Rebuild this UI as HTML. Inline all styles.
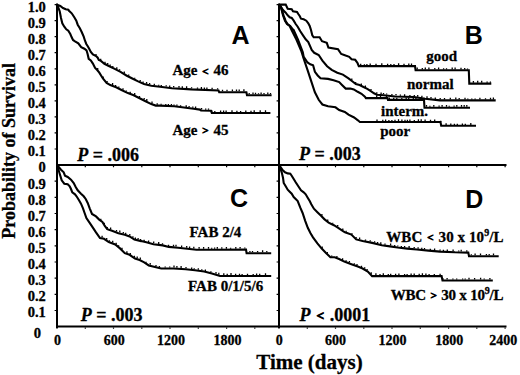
<!DOCTYPE html>
<html><head><meta charset="utf-8"><style>
html,body{margin:0;padding:0;background:#fff;}
body{width:520px;height:375px;overflow:hidden;font-family:"Liberation Serif",serif;}
svg{display:block;}
text{stroke:#000;stroke-width:0.3px;paint-order:stroke;}
text[font-family='Liberation Sans']{stroke:none;}
</style></head><body>
<svg width="520" height="375" viewBox="0 0 520 375">
<rect width="520" height="375" fill="#fff"/>
<path d="M57 3.6V328M279 3.6V328M56 165H506.5M56 326.6H506.5" stroke="#000" stroke-width="2" fill="none"/>
<path d="M54.6 149.0h1.4 M54.6 132.9h1.4 M54.6 116.9h1.4 M54.6 100.8h1.4 M54.6 84.8h1.4 M54.6 68.8h1.4 M54.6 52.7h1.4 M54.6 36.7h1.4 M54.6 20.6h1.4 M54.6 4.6h1.4 M54.6 310.5h1.4 M54.6 294.4h1.4 M54.6 278.2h1.4 M54.6 262.0h1.4 M54.6 245.8h1.4 M54.6 229.7h1.4 M54.6 213.5h1.4 M54.6 197.3h1.4 M54.6 181.2h1.4 M276.6 149.0h1.4 M276.6 132.9h1.4 M276.6 116.9h1.4 M276.6 100.8h1.4 M276.6 84.8h1.4 M276.6 68.8h1.4 M276.6 52.7h1.4 M276.6 36.7h1.4 M276.6 20.6h1.4 M276.6 4.6h1.4 M276.6 310.5h1.4 M276.6 294.4h1.4 M276.6 278.2h1.4 M276.6 262.0h1.4 M276.6 245.8h1.4 M276.6 229.7h1.4 M276.6 213.5h1.4 M276.6 197.3h1.4 M276.6 181.2h1.4 M57.0 166.0v1.2 M85.3 166.0v1.2 M113.5 166.0v1.2 M141.8 166.0v1.2 M170.0 166.0v1.2 M198.3 166.0v1.2 M226.6 166.0v1.2 M254.8 166.0v1.2 M279.0 166.0v1.2 M307.3 166.0v1.2 M335.5 166.0v1.2 M363.8 166.0v1.2 M392.0 166.0v1.2 M420.3 166.0v1.2 M448.6 166.0v1.2 M476.8 166.0v1.2 M505.1 166.0v1.2 M57.0 327.6v1.2 M85.3 327.6v1.2 M113.5 327.6v1.2 M141.8 327.6v1.2 M170.0 327.6v1.2 M198.3 327.6v1.2 M226.6 327.6v1.2 M254.8 327.6v1.2 M279.0 327.6v1.2 M307.3 327.6v1.2 M335.5 327.6v1.2 M363.8 327.6v1.2 M392.0 327.6v1.2 M420.3 327.6v1.2 M448.6 327.6v1.2 M476.8 327.6v1.2 M505.1 327.6v1.2" stroke="#000" stroke-width="1.2" fill="none"/>
<polyline points="57.0,4.8 60.3,6.0 63.0,8.0 65.7,9.3 68.3,9.7 69.0,10.7 71.7,13.3 74.3,17.3 76.3,20.7 77.7,24.7 79.7,28.0 81.7,32.0 83.7,36.7 85.0,40.7 86.3,44.0 87.6,46.0 89.2,48.7 90.8,51.9 92.9,54.5 96.1,56.1 97.7,57.7 98.8,59.9 100.9,60.9 104.4,63.8 108.8,66.0 114.7,68.9 120.5,71.9 126.4,75.5 132.3,78.5 138.1,81.4 144.0,84.0 151.3,85.8 160.0,86.8 172.0,88.2 191.2,89.4 218.5,90.4 219.2,92.2 246.4,92.2 247.0,95.2 271.6,95.2" stroke="#000" stroke-width="2.1" fill="none" stroke-linejoin="miter"/>
<polyline points="57.4,5.0 59.7,11.3 61.0,18.0 62.3,23.3 64.3,26.7 66.3,29.3 68.3,30.7 70.3,34.0 71.7,37.3 73.0,40.0 75.0,41.3 78.3,43.3 81.2,47.1 84.4,48.7 86.5,50.3 87.6,54.0 88.7,58.8 90.8,60.4 92.9,63.6 95.1,67.9 97.2,70.0 99.3,72.7 102.9,78.5 106.6,82.9 110.3,85.1 116.1,87.3 122.0,90.2 127.9,93.1 133.7,95.3 139.6,98.3 145.5,101.2 151.3,104.1 155.7,105.6 160.0,105.6 174.4,106.3 193.6,108.8 200.0,109.6 201.0,110.5 211.0,110.8 211.8,113.0 270.4,113.0" stroke="#000" stroke-width="2.1" fill="none" stroke-linejoin="miter"/>
<polyline points="279.0,4.6 285.7,4.6 287.7,8.7 291.7,9.3 293.0,11.3 297.0,12.0 298.3,14.0 299.7,16.0 301.0,18.7 303.7,19.3 306.3,20.7 308.3,23.3 309.7,26.0 311.0,30.0 312.3,35.3 313.7,37.3 319.6,37.2 322.0,41.2 326.8,42.8 328.4,47.6 338.0,49.2 341.2,54.0 345.6,55.6 349.2,56.8 351.6,59.2 355.2,59.8 357.5,63.0 358.8,66.1 415.0,66.1 415.6,70.3 468.8,70.3 469.3,83.6 491.3,83.6" stroke="#000" stroke-width="2.1" fill="none" stroke-linejoin="miter"/>
<polyline points="279.5,4.8 283.0,10.0 285.7,12.7 287.7,15.3 289.7,17.3 291.7,18.0 293.7,20.7 295.7,24.0 297.7,26.7 300.3,31.3 303.0,35.3 305.7,39.3 308.3,42.0 310.3,46.7 311.7,50.0 314.2,52.8 318.7,55.0 322.4,60.6 327.1,66.2 331.7,69.9 337.3,72.7 342.9,74.6 348.5,78.3 352.9,81.7 355.8,84.1 359.6,85.1 363.5,87.0 367.3,88.9 371.2,91.3 374.0,93.3 376.9,94.7 383.7,95.2 395.0,96.5 414.0,97.0 425.0,98.8 440.0,100.4 495.7,100.4" stroke="#000" stroke-width="2.1" fill="none" stroke-linejoin="miter"/>
<polyline points="279.5,5.0 281.0,7.3 283.5,15.3 285.5,20.7 287.5,24.0 290.2,26.0 292.2,28.7 293.6,30.0 298.0,39.6 302.8,52.4 303.7,56.9 307.5,62.5 310.3,64.3 313.1,65.3 314.9,71.8 317.7,75.5 320.5,78.3 328.0,78.9 333.6,80.2 339.2,82.1 342.0,84.9 345.7,88.6 350.4,88.6 353.8,89.4 357.7,91.8 361.5,93.8 364.9,96.6 365.9,98.1 387.5,98.1 388.0,99.9 424.0,99.9 424.5,107.7 470.0,107.7" stroke="#000" stroke-width="2.1" fill="none" stroke-linejoin="miter"/>
<polyline points="279.5,5.0 281.0,7.3 283.0,15.3 285.0,20.7 287.0,24.0 289.7,26.0 291.6,30.0 296.4,39.6 301.2,50.8 303.7,58.7 307.5,69.9 311.2,81.1 314.9,92.3 318.7,99.8 322.4,104.5 328.0,106.3 335.5,107.3 339.2,110.1 344.8,111.9 348.5,114.7 354.1,117.5 357.9,120.3 359.9,122.0 440.5,122.0 441.2,125.8 476.0,125.8" stroke="#000" stroke-width="2.1" fill="none" stroke-linejoin="miter"/>
<polyline points="57.4,165.5 61.0,169.7 63.7,172.3 65.0,175.7 67.7,177.0 71.0,179.7 73.7,183.0 75.7,187.0 77.7,190.3 81.0,193.7 83.7,196.3 85.7,199.0 87.7,203.0 89.7,208.3 92.0,214.0 96.0,216.4 99.2,219.6 102.4,222.0 104.8,226.0 107.2,229.2 112.0,230.8 118.4,233.2 124.8,234.8 129.6,236.4 134.4,239.6 141.2,241.1 147.3,242.6 153.5,244.2 162.7,245.4 168.8,246.9 178.1,247.7 187.3,248.8 196.5,249.7 215.0,249.7 246.0,249.5 246.6,253.2 271.2,253.2" stroke="#000" stroke-width="2.1" fill="none" stroke-linejoin="miter"/>
<polyline points="57.4,166.0 59.7,173.7 61.7,180.3 64.3,183.7 67.7,184.3 69.7,186.3 71.0,189.0 72.3,192.3 75.0,194.3 77.0,197.0 79.0,200.3 81.0,203.7 83.0,208.3 84.6,213.0 86.4,218.0 91.2,225.2 96.0,232.4 100.0,238.0 104.0,238.8 108.8,242.0 115.2,244.4 120.0,248.4 124.8,253.2 129.6,254.8 135.0,258.5 139.6,260.0 144.2,262.3 148.8,265.4 155.0,266.9 161.2,268.5 173.5,268.5 185.8,269.2 195.0,270.3 204.2,271.5 211.9,273.4 220.0,276.0 271.2,276.0" stroke="#000" stroke-width="2.1" fill="none" stroke-linejoin="miter"/>
<polyline points="279.5,165.5 282.3,169.7 285.0,172.3 287.7,173.4 290.3,173.7 291.7,175.7 293.7,179.0 295.7,182.3 298.3,186.3 301.0,190.3 303.7,192.3 305.7,194.3 307.7,197.7 309.7,201.0 311.3,204.3 313.9,208.7 317.4,212.2 320.8,215.6 324.3,219.1 328.6,222.6 333.9,225.2 338.2,227.8 343.4,231.3 345.0,232.2 351.4,234.6 356.2,239.4 362.6,241.0 372.2,242.9 381.8,245.2 390.0,246.4 397.7,247.5 407.3,248.6 416.9,249.5 428.5,250.6 440.0,251.6 455.0,252.3 468.3,252.6 469.0,256.2 498.7,256.2" stroke="#000" stroke-width="2.1" fill="none" stroke-linejoin="miter"/>
<polyline points="279.5,166.0 281.7,172.3 283.0,177.7 283.7,183.0 285.7,186.3 287.7,189.7 289.7,191.7 291.7,193.7 293.7,197.0 295.7,199.0 297.7,201.0 299.0,204.3 300.3,207.7 302.6,213.0 305.2,220.8 307.8,227.8 310.4,233.0 313.0,237.3 317.4,243.4 321.7,248.6 326.0,253.0 330.4,257.3 334.7,257.3 339.1,259.0 344.3,261.6 351.4,264.2 357.8,266.6 362.6,268.5 367.8,271.5 372.1,276.1 441.6,276.1 442.5,280.5 492.8,280.5" stroke="#000" stroke-width="2.1" fill="none" stroke-linejoin="miter"/>
<path d="M96.0 55.1v-1.2 M100.7 59.9v-1.1 M105.0 63.2v-1.4 M107.7 64.5v-1.5 M110.2 65.8v-1.4 M112.8 67.1v-1.1 M116.8 69.1v-1.8 M119.6 70.5v-1.2 M124.3 73.3v-1.9 M128.7 75.8v-1.4 M134.7 78.8v-1.0 M140.2 81.4v-1.3 M143.1 82.7v-1.1 M146.6 83.7v-1.8 M149.6 84.5v-1.6 M154.3 85.2v-1.4 M158.7 85.8v-1.1 M161.3 86.1v-1.2 M166.2 86.6v-1.4 M169.7 87.0v-1.6 M173.7 87.4v-1.3 M179.0 87.7v-1.7 M182.3 87.9v-1.6 M186.6 88.2v-1.9 M191.6 88.5v-1.3 M197.5 88.7v-1.1 M201.4 88.9v-1.8 M204.4 89.0v-1.5 M206.9 89.1v-1.7 M212.1 89.3v-1.6 M217.6 89.5v-1.3 M222.5 91.3v-1.6 M227.0 91.3v-1.5 M232.4 91.3v-1.9 M236.5 91.3v-1.7 M239.2 91.3v-1.7 M243.9 91.3v-2.0 M249.2 94.3v-1.3 M253.0 94.3v-1.7 M255.5 94.3v-1.5 M258.5 94.3v-1.1 M261.1 94.3v-1.8 M264.0 94.3v-1.2 M267.8 94.3v-1.9 M270.5 94.3v-1.4 M97.7 69.7v-1.8 M103.2 77.9v-1.3 M107.1 82.3v-1.4 M112.6 85.1v-2.0 M115.6 86.2v-1.2 M118.8 87.7v-1.2 M123.0 89.8v-1.6 M126.3 91.4v-1.0 M130.2 93.1v-1.4 M134.7 94.9v-2.0 M139.5 97.4v-1.5 M144.2 99.6v-1.7 M146.8 100.9v-1.9 M152.0 103.4v-1.9 M157.2 104.7v-1.4 M161.1 104.8v-1.1 M165.8 105.0v-1.1 M168.4 105.1v-1.2 M171.4 105.3v-1.3 M174.0 105.4v-1.0 M176.9 105.7v-1.1 M180.6 106.2v-1.0 M186.2 106.9v-1.6 M189.1 107.3v-1.3 M192.8 107.8v-1.4 M195.6 108.2v-1.8 M201.6 109.6v-1.5 M205.7 109.7v-1.1 M208.5 109.8v-1.3 M211.8 112.1v-1.8 M214.8 112.1v-1.0 M220.6 112.1v-1.5 M223.6 112.1v-1.5 M226.1 112.1v-1.5 M232.0 112.1v-1.9 M236.9 112.1v-1.3 M240.6 112.1v-1.2 M245.8 112.1v-1.5 M251.0 112.1v-1.3 M254.2 112.1v-1.8 M260.2 112.1v-1.9 M265.5 112.1v-1.8 M360.7 65.2v-1.5 M364.4 65.2v-1.0 M366.9 65.2v-1.3 M370.2 65.2v-1.7 M376.0 65.2v-1.4 M381.8 65.2v-2.0 M387.6 65.2v-1.4 M390.8 65.2v-1.2 M394.0 65.2v-1.2 M398.6 65.2v-1.9 M404.0 65.2v-1.5 M408.8 65.2v-1.8 M411.5 65.2v-1.7 M417.2 69.4v-1.8 M422.3 69.4v-1.5 M425.3 69.4v-1.8 M428.9 69.4v-1.8 M434.8 69.4v-1.4 M438.6 69.4v-1.9 M443.6 69.4v-1.2 M446.5 69.4v-1.2 M452.2 69.4v-1.8 M455.1 69.4v-1.8 M461.0 69.4v-1.7 M464.7 69.4v-1.5 M467.5 69.4v-1.0 M473.4 82.7v-1.6 M477.7 82.7v-1.9 M481.7 82.7v-1.9 M487.1 82.7v-1.2 M490.4 82.7v-1.3 M351.8 79.9v-1.3 M355.7 83.1v-1.1 M361.3 85.0v-1.4 M365.4 87.0v-1.6 M371.0 90.3v-1.4 M376.8 93.7v-1.5 M381.1 94.1v-1.5 M383.5 94.3v-1.4 M386.6 94.6v-1.0 M391.9 95.2v-1.2 M396.0 95.6v-1.7 M400.4 95.7v-1.3 M404.6 95.9v-1.6 M409.9 96.0v-1.1 M414.3 96.1v-1.2 M417.7 96.7v-1.8 M421.9 97.4v-1.6 M427.0 98.1v-1.9 M431.0 98.5v-1.6 M435.3 99.0v-1.5 M440.2 99.5v-1.5 M444.5 99.5v-1.5 M450.3 99.5v-1.7 M455.8 99.5v-1.9 M459.2 99.5v-1.6 M465.0 99.5v-1.8 M467.8 99.5v-1.1 M471.8 99.5v-1.1 M475.1 99.5v-1.1 M479.9 99.5v-1.8 M485.5 99.5v-1.2 M490.5 99.5v-1.7 M493.4 99.5v-1.9 M376.7 97.2v-2.0 M380.5 97.2v-1.5 M386.5 97.2v-1.8 M389.4 99.0v-1.4 M393.7 99.0v-1.3 M396.8 99.0v-1.3 M401.8 99.0v-1.0 M406.2 99.0v-1.4 M408.7 99.0v-1.3 M413.3 99.0v-1.5 M415.9 99.0v-2.0 M421.2 99.0v-2.0 M424.0 99.0v-1.3 M426.5 106.8v-1.8 M429.9 106.8v-1.1 M433.8 106.8v-1.9 M439.1 106.8v-1.3 M442.1 106.8v-1.9 M446.5 106.8v-1.7 M449.2 106.8v-1.1 M454.1 106.8v-1.4 M456.8 106.8v-1.9 M461.5 106.8v-1.8 M464.2 106.8v-1.9 M466.8 106.8v-1.9 M377.0 121.1v-1.6 M382.8 121.1v-1.3 M385.6 121.1v-1.5 M388.9 121.1v-1.1 M391.9 121.1v-1.1 M395.0 121.1v-1.3 M398.5 121.1v-1.8 M401.9 121.1v-1.5 M405.0 121.1v-1.3 M407.4 121.1v-1.3 M409.9 121.1v-1.7 M414.3 121.1v-1.2 M418.4 121.1v-1.9 M421.2 121.1v-1.8 M425.1 121.1v-1.5 M430.5 121.1v-1.4 M434.7 121.1v-1.7 M440.7 122.1v-1.3 M446.1 124.9v-1.7 M450.8 124.9v-1.4 M454.4 124.9v-1.1 M457.3 124.9v-1.1 M462.4 124.9v-1.3 M465.3 124.9v-1.1 M470.8 124.9v-1.9 M100.8 219.9v-1.2 M104.3 224.3v-1.5 M107.3 228.3v-1.4 M110.6 229.4v-2.0 M116.5 231.6v-1.5 M119.8 232.6v-2.0 M123.3 233.5v-1.4 M125.7 234.2v-1.4 M129.8 235.6v-1.5 M132.9 237.7v-1.5 M135.4 238.9v-1.3 M138.1 239.5v-1.4 M140.6 240.1v-1.0 M144.1 240.9v-1.2 M148.6 242.0v-1.5 M153.7 243.3v-1.7 M158.7 244.0v-1.9 M162.5 244.5v-1.3 M168.5 245.9v-1.1 M173.5 246.4v-1.6 M176.0 246.6v-1.8 M181.6 247.2v-1.6 M186.7 247.8v-1.8 M189.6 248.1v-1.5 M193.8 248.5v-1.8 M199.1 248.8v-1.8 M203.6 248.8v-1.9 M208.5 248.8v-1.7 M211.7 248.8v-1.0 M214.6 248.8v-1.4 M217.3 248.8v-1.8 M221.8 248.8v-1.6 M226.4 248.7v-1.7 M230.6 248.7v-1.0 M235.8 248.7v-1.7 M240.1 248.6v-1.5 M244.8 248.6v-1.1 M249.9 252.3v-1.3 M252.5 252.3v-1.3 M257.6 252.3v-1.2 M262.6 252.3v-2.0 M266.8 252.3v-1.4 M102.1 237.5v-1.8 M106.7 239.7v-1.6 M109.4 241.3v-1.1 M112.7 242.5v-1.7 M116.2 244.3v-1.6 M118.6 246.3v-1.1 M122.0 249.5v-1.7 M126.9 253.0v-1.7 M130.3 254.4v-1.5 M134.4 257.2v-1.5 M137.2 258.3v-1.9 M140.3 259.5v-2.0 M146.1 262.7v-1.0 M150.2 264.8v-1.8 M156.0 266.3v-1.4 M159.4 267.1v-1.2 M165.2 267.6v-1.2 M169.7 267.6v-1.1 M174.0 267.6v-2.0 M176.9 267.8v-1.8 M181.1 268.0v-1.9 M186.0 268.3v-1.2 M191.7 269.0v-1.5 M194.2 269.3v-1.0 M198.3 269.8v-1.5 M201.8 270.3v-1.1 M205.4 270.9v-1.3 M210.9 272.2v-1.0 M216.0 273.8v-1.8 M218.8 274.7v-1.9 M223.8 275.1v-1.9 M227.2 275.1v-1.4 M231.0 275.1v-2.0 M235.6 275.1v-1.4 M239.5 275.1v-1.3 M242.1 275.1v-1.1 M247.5 275.1v-1.3 M253.2 275.1v-1.2 M256.6 275.1v-1.5 M259.7 275.1v-1.4 M265.5 275.1v-1.9 M321.9 215.8v-1.9 M327.7 221.0v-1.5 M332.7 223.7v-1.0 M337.7 226.6v-1.5 M342.8 230.0v-1.6 M346.2 231.8v-1.0 M352.0 234.3v-1.1 M356.1 238.4v-1.3 M359.6 239.3v-1.7 M365.5 240.7v-1.3 M370.2 241.6v-1.3 M374.6 242.6v-1.4 M377.6 243.3v-1.2 M380.8 244.1v-1.9 M385.0 244.8v-1.2 M390.6 245.6v-2.0 M394.7 246.2v-1.1 M397.8 246.6v-1.1 M401.4 247.0v-1.1 M404.6 247.4v-1.3 M409.1 247.9v-1.9 M414.2 248.3v-1.4 M418.1 248.7v-1.5 M421.8 249.1v-1.3 M424.5 249.3v-1.3 M430.3 249.9v-1.1 M434.6 250.2v-1.6 M440.1 250.7v-1.2 M443.4 250.9v-1.2 M447.3 251.0v-1.4 M453.1 251.3v-1.8 M458.7 251.5v-1.0 M461.2 251.5v-1.7 M466.8 251.7v-1.5 M471.3 255.3v-1.0 M475.1 255.3v-1.9 M480.5 255.3v-1.9 M486.4 255.3v-1.2 M489.2 255.3v-1.2 M493.5 255.3v-1.7 M322.2 248.2v-1.6 M327.3 253.4v-1.5 M331.7 256.4v-1.0 M336.9 257.3v-1.2 M342.6 259.9v-1.6 M346.1 261.4v-1.1 M349.4 262.6v-1.6 M354.3 264.4v-1.1 M357.0 265.4v-1.5 M361.5 267.2v-1.4 M364.7 268.8v-1.6 M367.1 270.2v-1.3 M371.2 274.2v-2.0 M375.9 275.2v-1.9 M380.0 275.2v-1.2 M383.3 275.2v-2.0 M388.3 275.2v-1.3 M390.7 275.2v-1.5 M395.6 275.2v-1.4 M398.9 275.2v-1.7 M404.6 275.2v-1.2 M407.1 275.2v-1.3 M411.1 275.2v-1.7 M414.2 275.2v-1.8 M419.2 275.2v-1.5 M422.4 275.2v-2.0 M425.9 275.2v-1.8 M429.1 275.2v-1.2 M434.3 275.2v-1.3 M440.1 275.2v-1.5 M443.2 279.6v-1.2 M447.1 279.6v-1.7 M452.9 279.6v-1.1 M456.7 279.6v-1.2 M462.6 279.6v-1.1 M465.2 279.6v-1.1 M469.0 279.6v-1.9 M474.6 279.6v-1.7 M480.6 279.6v-1.9 M484.2 279.6v-1.2 M489.9 279.6v-1.7" stroke="#000" stroke-width="1.3" fill="none"/>
<text x="45.8" y="155.7" font-size="14.5" text-anchor="end" font-family="Liberation Serif" font-weight="bold" >0.1</text>
<text x="45.8" y="139.7" font-size="14.5" text-anchor="end" font-family="Liberation Serif" font-weight="bold" >0.2</text>
<text x="45.8" y="123.7" font-size="14.5" text-anchor="end" font-family="Liberation Serif" font-weight="bold" >0.3</text>
<text x="45.8" y="107.7" font-size="14.5" text-anchor="end" font-family="Liberation Serif" font-weight="bold" >0.4</text>
<text x="45.8" y="91.7" font-size="14.5" text-anchor="end" font-family="Liberation Serif" font-weight="bold" >0.5</text>
<text x="45.8" y="75.6" font-size="14.5" text-anchor="end" font-family="Liberation Serif" font-weight="bold" >0.6</text>
<text x="45.8" y="59.6" font-size="14.5" text-anchor="end" font-family="Liberation Serif" font-weight="bold" >0.7</text>
<text x="45.8" y="43.6" font-size="14.5" text-anchor="end" font-family="Liberation Serif" font-weight="bold" >0.8</text>
<text x="45.8" y="27.6" font-size="14.5" text-anchor="end" font-family="Liberation Serif" font-weight="bold" >0.9</text>
<text x="45.8" y="11.6" font-size="14.5" text-anchor="end" font-family="Liberation Serif" font-weight="bold" >1.0</text>
<text x="45.8" y="316.6" font-size="14.5" text-anchor="end" font-family="Liberation Serif" font-weight="bold" >0.1</text>
<text x="45.8" y="300.6" font-size="14.5" text-anchor="end" font-family="Liberation Serif" font-weight="bold" >0.2</text>
<text x="45.8" y="284.6" font-size="14.5" text-anchor="end" font-family="Liberation Serif" font-weight="bold" >0.3</text>
<text x="45.8" y="268.6" font-size="14.5" text-anchor="end" font-family="Liberation Serif" font-weight="bold" >0.4</text>
<text x="45.8" y="252.6" font-size="14.5" text-anchor="end" font-family="Liberation Serif" font-weight="bold" >0.5</text>
<text x="45.8" y="236.5" font-size="14.5" text-anchor="end" font-family="Liberation Serif" font-weight="bold" >0.6</text>
<text x="45.8" y="220.5" font-size="14.5" text-anchor="end" font-family="Liberation Serif" font-weight="bold" >0.7</text>
<text x="45.8" y="204.5" font-size="14.5" text-anchor="end" font-family="Liberation Serif" font-weight="bold" >0.8</text>
<text x="45.8" y="188.5" font-size="14.5" text-anchor="end" font-family="Liberation Serif" font-weight="bold" >0.9</text>
<text x="45.8" y="172.1" font-size="14.5" text-anchor="end" font-family="Liberation Serif" font-weight="bold" >0</text>
<text x="37.4" y="338.3" font-size="14.5" text-anchor="middle" font-family="Liberation Serif" font-weight="bold" >0</text>
<text x="57.6" y="344.9" font-size="14" text-anchor="middle" font-family="Liberation Serif" font-weight="bold" >0</text>
<text x="114.2" y="344.9" font-size="14" text-anchor="middle" font-family="Liberation Serif" font-weight="bold" >600</text>
<text x="171" y="344.9" font-size="14" text-anchor="middle" font-family="Liberation Serif" font-weight="bold" >1200</text>
<text x="227.5" y="344.9" font-size="14" text-anchor="middle" font-family="Liberation Serif" font-weight="bold" >1800</text>
<text x="279.2" y="344.9" font-size="14" text-anchor="middle" font-family="Liberation Serif" font-weight="bold" >0</text>
<text x="335.5" y="344.9" font-size="14" text-anchor="middle" font-family="Liberation Serif" font-weight="bold" >600</text>
<text x="392.5" y="344.9" font-size="14" text-anchor="middle" font-family="Liberation Serif" font-weight="bold" >1200</text>
<text x="449.2" y="344.9" font-size="14" text-anchor="middle" font-family="Liberation Serif" font-weight="bold" >1800</text>
<text x="503.3" y="344.9" font-size="14" text-anchor="middle" font-family="Liberation Serif" font-weight="bold" >2400</text>
<text x="172.5" y="75.4" font-size="15" text-anchor="start" font-family="Liberation Serif" font-weight="bold" >Age <tspan dx="1.10" dy="-0.9" font-size="11.10" style="stroke-width:0.82px">&lt;</tspan><tspan dx="1.10" dy="0.9"> 46</tspan></text>
<text x="172.5" y="134.9" font-size="15" text-anchor="start" font-family="Liberation Serif" font-weight="bold" >Age <tspan dx="1.10" dy="-0.9" font-size="11.10" style="stroke-width:0.82px">&gt;</tspan><tspan dx="1.10" dy="0.9"> 45</tspan></text>
<text x="426.2" y="60.5" font-size="15" text-anchor="start" font-family="Liberation Serif" font-weight="bold" >good</text>
<text x="407" y="88.9" font-size="15" text-anchor="start" font-family="Liberation Serif" font-weight="bold" >normal</text>
<text x="381" y="116.2" font-size="15" text-anchor="start" font-family="Liberation Serif" font-weight="bold" >interm.</text>
<text x="380.2" y="136.3" font-size="15" text-anchor="start" font-family="Liberation Serif" font-weight="bold" >poor</text>
<text x="189.5" y="237" font-size="15" text-anchor="start" font-family="Liberation Serif" font-weight="bold" >FAB 2/4</text>
<text x="188" y="291.3" font-size="15" text-anchor="start" font-family="Liberation Serif" font-weight="bold" >FAB 0/1/5/6</text>
<text x="386.2" y="241.8" font-size="15" text-anchor="start" font-family="Liberation Serif" font-weight="bold" textLength="117.3" lengthAdjust="spacing">WBC <tspan dx="1.10" dy="-0.9" font-size="11.10" style="stroke-width:0.82px">&lt;</tspan><tspan dx="1.10" dy="0.9"> 30 x 10</tspan><tspan font-size="10" dy="-6">9</tspan><tspan dy="6">/L</tspan></text>
<text x="390.8" y="299.9" font-size="15" text-anchor="start" font-family="Liberation Serif" font-weight="bold" textLength="112.6" lengthAdjust="spacing">WBC <tspan dx="1.10" dy="-0.9" font-size="11.10" style="stroke-width:0.82px">&gt;</tspan><tspan dx="1.10" dy="0.9"> 30 x 10</tspan><tspan font-size="10" dy="-6">9</tspan><tspan dy="6">/L</tspan></text>
<text x="231.5" y="44.1" font-size="25" text-anchor="start" font-family="Liberation Sans" font-weight="bold" >A</text>
<text x="464.8" y="43.7" font-size="25" text-anchor="start" font-family="Liberation Sans" font-weight="bold" >B</text>
<text x="229.9" y="207" font-size="25" text-anchor="start" font-family="Liberation Sans" font-weight="bold" >C</text>
<text x="465.3" y="207.7" font-size="25" text-anchor="start" font-family="Liberation Sans" font-weight="bold" >D</text>
<text x="77.3" y="160.5" font-size="18" font-family="Liberation Serif" font-weight="bold"><tspan font-style="italic">P</tspan> = .006</text>
<text x="299" y="160.4" font-size="18" font-family="Liberation Serif" font-weight="bold"><tspan font-style="italic">P</tspan> = .003</text>
<text x="80.8" y="321" font-size="18" font-family="Liberation Serif" font-weight="bold"><tspan font-style="italic">P</tspan> = .003</text>
<text x="299.6" y="321" font-size="18" font-family="Liberation Serif" font-weight="bold"><tspan font-style="italic">P</tspan> <tspan dx="1.32" dy="-0.9" font-size="13.32" style="stroke-width:0.99px">&lt;</tspan><tspan dx="1.32" dy="0.9"> .0001</tspan></text>
<text x="256.3" y="368.6" font-size="21" text-anchor="start" font-family="Liberation Serif" font-weight="bold" >Time (days)</text>
<text transform="translate(14.7 150.8) rotate(-90)" x="0" y="0" font-size="18" text-anchor="middle" font-family="Liberation Serif" font-weight="bold">Probability of Survival</text>
</svg>
</body></html>
